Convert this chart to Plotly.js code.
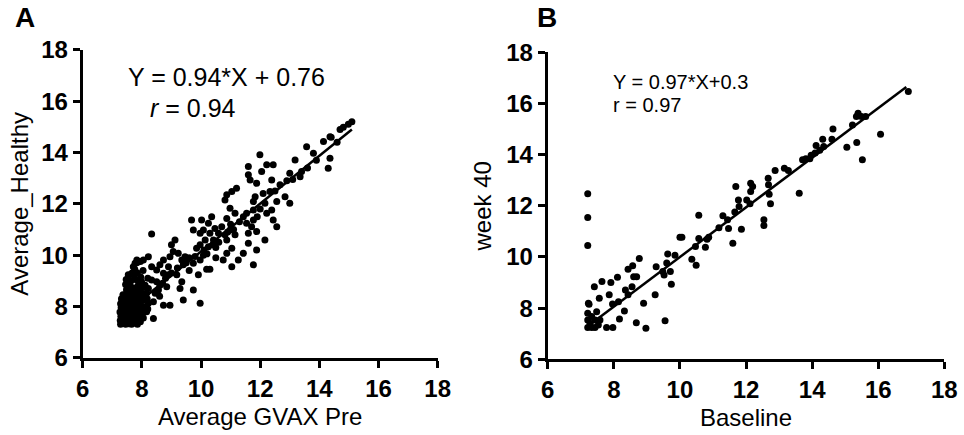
<!DOCTYPE html>
<html>
<head>
<meta charset="utf-8">
<script src="https://cdn.plot.ly/plotly-3.0.1.min.js"></script>
<style>html,body{margin:0;padding:0;background:#fff;}#chart{width:964px;height:435px;}</style>
</head>
<body>
<div id="chart"></div>
<script>
// Panel A: Average GVAX Pre (x) vs Average_Healthy (y)
const healthyX = [
  15.1,14.98,14.81,14.7,14.36,14.14,14.36,14.3,13.8,13.57,
  13.4,13.35,13.18,13.0,13.0,12.84,12.67,12.44,12.39,12.33,
  12.22,12.56,12.56,12.39,12.44,12.16,12.22,12.16,11.99,12.05,
  11.88,11.83,11.77,11.77,11.77,11.71,11.88,11.88,11.77,11.6,
  11.6,11.66,11.54,11.43,11.54,11.6,11.6,11.43,11.15,10.98,
  11.2,11.04,10.87,10.81,10.98,11.15,11.04,11.04,11.26,10.75,
  10.87,10.87,10.81,10.7,10.87,10.59,10.42,10.47,10.36,10.25,
  10.3,10.14,10.25,10.08,10.02,9.97,9.97,9.85,10.08,9.97,
  10.3,10.19,9.91,9.74,9.74,9.97,9.74,9.68,9.46,9.35,
  9.4,9.23,9.06,9.12,9.0,8.95,9.18,9.29,9.35,9.4,
  8.95,8.73,8.84,8.9,8.73,8.9,8.73,8.61,8.5,8.5,
  8.45,8.39,8.39,8.33,8.56,8.33,8.33,8.61,8.22,8.05,
  7.83,7.77,7.71,7.66,7.54,7.6,7.83,7.99,8.11,8.16,
  8.22,8.16,7.83,7.66,7.49,7.43,
  9.5,9.6,9.8,10.1,10.4,10.6,10.9,11.1,11.3,11.0,
  10.5,9.2,9.0,8.8,8.7,8.6,9.6,10.2,10.5,11.9,
  12.0,12.1,12.5,12.9,13.1,13.6,13.9,14.4,14.6,
  7.28,7.27,7.29,7.26,7.3,7.28,7.31,
  7.35,7.36,7.34,7.37,7.35,7.33,7.36,
  7.45,7.44,7.46,7.43,7.47,7.45,7.44,7.46,7.48,7.45,7.47,
  7.55,7.56,7.54,7.57,7.55,7.53,7.56,7.55,7.57,7.54,
  7.65,7.64,7.66,7.63,7.65,7.67,7.64,7.66,7.65,7.63,
  7.75,7.76,7.74,7.77,7.75,7.73,7.76,7.75,7.74,7.76,
  7.85,7.84,7.86,7.83,7.85,7.87,7.84,7.86,7.85,7.83,
  7.95,7.94,7.96,7.93,7.95,7.97,7.94,7.96,7.95,
  8.05,8.04,8.06,8.03,8.05,8.07,8.04,
  8.2,8.18,8.22,8.2
];
const healthyY = [
  15.2,15.1,14.99,14.9,14.62,14.43,13.78,13.39,13.97,14.23,
  13.26,13.06,13.71,13.19,12.02,12.28,12.74,13.52,12.93,12.48,
  13.52,12.09,11.11,11.76,11.37,12.02,11.63,10.59,13.91,13.26,
  12.8,12.28,12.09,11.76,11.37,11.11,10.92,10.2,9.62,13.46,
  13.13,12.93,11.63,11.5,11.24,10.85,10.46,10.07,11.63,11.83,
  12.61,12.48,12.35,12.15,10.98,10.79,10.27,9.55,9.81,9.81,
  10.07,10.59,10.79,11.11,11.43,10.85,10.59,11.04,11.5,11.24,
  10.85,10.59,10.33,10.98,11.37,10.85,10.4,10.27,10.0,9.81,
  9.45,9.45,9.23,9.68,8.64,8.12,10.98,11.37,9.94,9.81,
  9.62,10.07,10.14,10.59,10.4,9.94,9.23,8.7,8.96,8.25,
  8.05,8.05,8.77,9.23,9.29,9.55,9.81,9.62,9.42,8.96,
  8.51,8.18,7.53,10.82,8.64,9.03,9.55,8.83,9.94,9.81,
  9.81,9.68,9.55,9.29,9.23,8.96,9.03,8.96,8.83,8.51,
  8.12,7.79,8.64,8.64,8.51,8.25,
  9.7,9.9,9.95,10.2,10.4,10.5,10.9,11.0,11.3,11.2,
  10.3,9.5,9.3,9.1,8.9,8.4,9.4,10.05,9.9,11.5,
  11.8,12.4,12.5,12.9,12.95,13.4,13.7,14.6,14.4,
  7.3,7.45,7.62,7.78,7.95,8.1,8.3,
  7.35,7.55,7.7,7.88,8.05,8.25,8.45,
  7.3,7.42,7.6,7.75,7.92,8.1,8.28,8.45,8.65,8.85,9.05,
  7.32,7.5,7.68,7.85,8.02,8.2,8.4,8.6,8.8,9.1,
  7.3,7.45,7.6,7.8,7.98,8.15,8.35,8.55,8.75,9.0,
  7.35,7.52,7.7,7.88,8.05,8.25,8.45,8.7,9.2,9.45,
  7.3,7.48,7.65,7.85,8.05,8.3,8.55,8.8,9.3,9.7,
  7.4,7.6,7.8,8.0,8.2,8.45,8.7,9.15,9.75,
  7.55,7.75,8.0,8.25,8.5,8.75,9.4,
  7.9,8.3,8.7,9.1
];
const fitAX = [7.3, 15.1];
const fitAY = [7.62, 14.9];

// Panel B: Baseline (x) vs week 40 (y)
const week40X = [
  7.21,7.21,7.21,7.23,7.41,7.64,7.56,7.91,7.86,8.11,
  7.96,8.14,8.35,8.43,8.57,8.77,8.6,8.69,8.55,8.43,
  8.32,8.17,8.68,8.9,8.97,7.78,7.97,9.25,9.28,9.48,
  9.52,9.6,9.63,9.71,9.74,9.55,9.85,10.0,10.06,10.36,
  10.49,10.57,10.47,10.57,10.77,10.87,10.82,11.18,11.3,11.44,
  11.47,11.6,11.66,11.69,11.77,11.79,11.86,12.02,12.14,12.2,
  12.14,12.12,12.54,12.54,12.67,12.68,12.7,12.74,12.88,13.16,
  13.28,13.61,13.71,13.81,13.93,13.97,14.09,14.12,14.23,14.32,
  14.35,14.63,14.6,15.05,15.35,15.52,15.22,15.34,15.39,15.49,
  15.62,16.07,16.91,
  7.21,7.21,7.21,7.33,7.43,7.53,7.43,7.33,7.58,7.28,7.48,7.25
];
const week40Y = [
  12.47,11.54,10.45,8.19,8.84,9.04,8.39,9.0,8.52,9.21,
  8.16,8.25,8.71,9.52,9.66,9.94,9.23,9.23,8.84,8.52,
  7.89,7.58,7.43,8.19,7.21,7.24,7.24,8.52,9.62,9.43,
  9.3,9.76,10.12,9.43,8.93,7.51,10.07,10.77,10.77,9.91,
  9.68,11.63,10.41,10.72,10.38,10.77,10.69,11.14,11.61,11.45,
  11.11,10.54,11.76,12.75,12.23,11.97,11.08,12.23,12.88,12.75,
  12.56,12.08,11.45,11.23,13.08,12.82,12.45,12.08,13.38,13.47,
  13.38,12.49,13.8,13.84,13.84,13.98,14.06,14.36,14.17,14.6,
  14.32,15.0,14.6,14.29,14.47,13.8,15.16,15.49,15.62,15.49,
  15.49,14.8,16.47,
  7.8,7.54,7.24,7.24,7.24,7.34,7.54,7.67,7.54,7.41,7.86,8.15
];
const fitBX = [7.35, 16.85];
const fitBY = [7.43, 16.64];

const tickVals = [6, 8, 10, 12, 14, 16, 18];
const tickText = ['6', '8', '10', '12', '14', '16', '18'];

const FONT = 'Liberation Sans, Arial, sans-serif';
const mk = {color: '#000', size: 7};

const traces = [
  {x: healthyX, y: healthyY, type: 'scatter', mode: 'markers', marker: mk, xaxis: 'x', yaxis: 'y'},
  {x: fitAX, y: fitAY, type: 'scatter', mode: 'lines', line: {color: '#000', width: 2.5}, xaxis: 'x', yaxis: 'y'},
  {x: week40X, y: week40Y, type: 'scatter', mode: 'markers', marker: mk, xaxis: 'x2', yaxis: 'y2'},
  {x: fitBX, y: fitBY, type: 'scatter', mode: 'lines', line: {color: '#000', width: 2.5}, xaxis: 'x2', yaxis: 'y2'}
];

function axis(extra) {
  return Object.assign({
    range: [6, 18], tickmode: 'array', tickvals: tickVals,
    ticktext: tickText.map(t => '<b>' + t + '</b>'),
    showline: true, linecolor: '#000', linewidth: 3, ticks: 'outside', ticklen: 7,
    tickwidth: 3, tickcolor: '#000', showgrid: false, zeroline: false,
    tickfont: {family: 'Liberation Sans', size: 24, color: '#000', weight: 700},
    fixedrange: true
  }, extra);
}

const layout = {
  width: 964, height: 435,
  margin: {l: 0, r: 0, t: 0, b: 0},
  paper_bgcolor: '#fff', plot_bgcolor: '#fff',
  showlegend: false,
  xaxis: axis({domain: [0.0858, 0.4540], anchor: 'y',
    title: {text: 'Average GVAX Pre', font: {family: FONT, size: 24, color: '#000'}, standoff: 8}}),
  yaxis: axis({domain: [0.1777, 0.8851], anchor: 'x',
    title: {text: 'Average_Healthy', font: {family: FONT, size: 24, color: '#000'}, standoff: 6}}),
  xaxis2: axis({domain: [0.5682, 0.9796], anchor: 'y2',
    title: {text: 'Baseline', font: {family: FONT, size: 24, color: '#000'}, standoff: 8}}),
  yaxis2: axis({domain: [0.1740, 0.8798], anchor: 'x2',
    title: {text: 'week 40', font: {family: FONT, size: 24, color: '#000'}, standoff: 8}}),
  annotations: [
    {text: 'Y = 0.94*X + 0.76', xref: 'x', yref: 'y', x: 7.45, y: 16.95, xanchor: 'left', yanchor: 'middle', showarrow: false,
     font: {family: FONT, size: 25, color: '#000'}},
    {text: '<i>r</i> = 0.94', xref: 'x', yref: 'y', x: 8.2, y: 15.74, xanchor: 'left', yanchor: 'middle', showarrow: false,
     font: {family: FONT, size: 25, color: '#000'}},
    {text: 'Y = 0.97*X+0.3', xref: 'x2', yref: 'y2', x: 7.92, y: 16.84, xanchor: 'left', yanchor: 'middle', showarrow: false,
     font: {family: FONT, size: 20, color: '#000'}},
    {text: 'r = 0.97', xref: 'x2', yref: 'y2', x: 7.92, y: 15.94, xanchor: 'left', yanchor: 'middle', showarrow: false,
     font: {family: FONT, size: 20, color: '#000'}},
    {text: '<b>A</b>', xref: 'paper', yref: 'paper', x: 13 / 964, y: 1 - 18 / 435, xanchor: 'left', yanchor: 'middle', showarrow: false,
     font: {family: FONT, size: 28, color: '#000'}},
    {text: '<b>B</b>', xref: 'paper', yref: 'paper', x: 535 / 964, y: 1 - 18 / 435, xanchor: 'left', yanchor: 'middle', showarrow: false,
     font: {family: FONT, size: 28, color: '#000'}}
  ]
};

Plotly.newPlot('chart', traces, layout, {displayModeBar: false, staticPlot: true});
</script>
</body>
</html>
